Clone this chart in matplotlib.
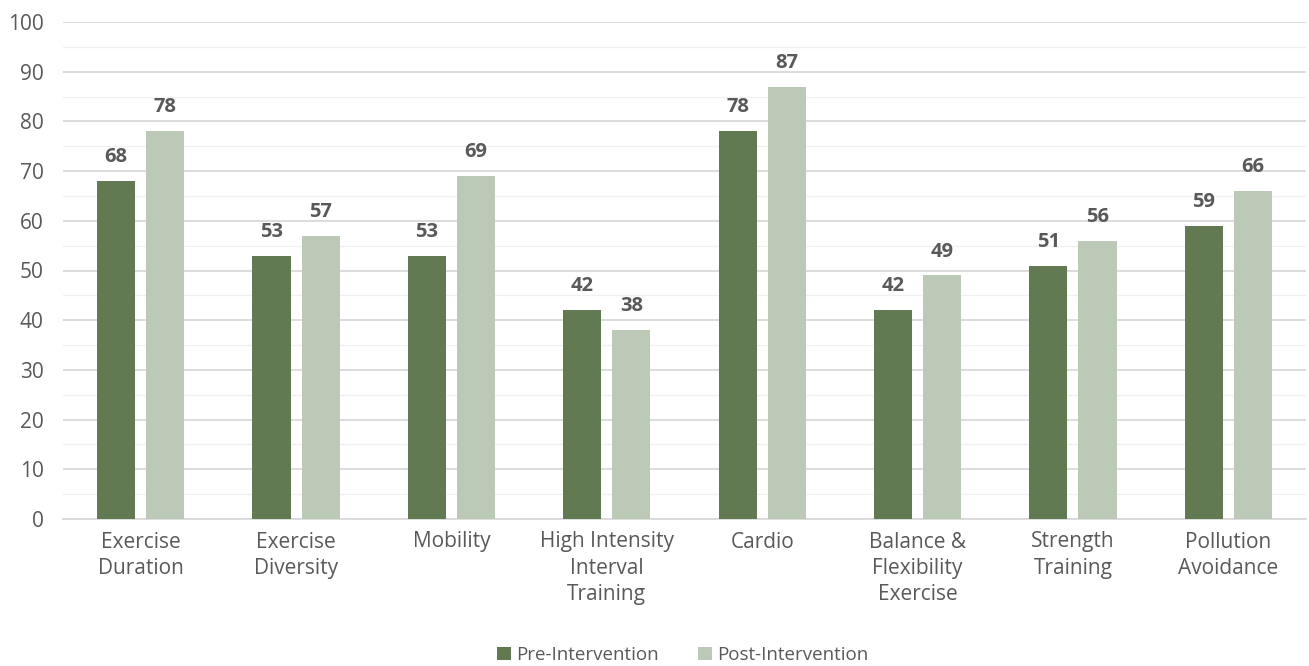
import matplotlib
matplotlib.use("Agg")
import matplotlib.pyplot as plt
import numpy as np

categories = ["Exercise\nDuration", "Exercise\nDiversity", "Mobility",
              "High Intensity\nInterval\nTraining", "Cardio",
              "Balance &\nFlexibility\nExercise", "Strength\nTraining",
              "Pollution\nAvoidance"]
pre_values = [68, 53, 53, 42, 78, 42, 51, 59]
post_values = [78, 57, 69, 38, 87, 49, 56, 66]
series_names = ["Pre-Intervention", "Post-Intervention"]
y_ticks = [0, 10, 20, 30, 40, 50, 60, 70, 80, 90, 100]

plt.rcParams['font.family'] = ['Open Sans', 'DejaVu Sans']
text_color = "#595959"
dark_green = "#627a52"
light_green = "#bdc9b7"

fig = plt.figure(figsize=(13.09, 6.66), dpi=100)
ax = fig.add_axes([63 / 1309, (666 - 519) / 666, (1306 - 63) / 1309, (519 - 22) / 666])

x = np.arange(len(categories))
width = 0.245
offset = 0.158
bars_pre = ax.bar(x - offset, pre_values, width, color=dark_green, label=series_names[0], zorder=3)
bars_post = ax.bar(x + offset, post_values, width, color=light_green, label=series_names[1], zorder=3)

for bars in (bars_pre, bars_post):
    for b in bars:
        h = b.get_height()
        ax.annotate(f"{h:.0f}", (b.get_x() + b.get_width() / 2, h),
                    xytext=(0, 10), textcoords="offset points",
                    ha="center", va="bottom", fontsize=14.5, fontweight="bold",
                    color=text_color)

ax.set_xlim(-0.5, len(categories) - 0.5)
ax.set_ylim(0, 100)
ax.set_yticks(y_ticks)
ax.set_yticks(np.arange(5, 100, 10), minor=True)
ax.yaxis.grid(True, which="major", color="#d9d9d9", linewidth=1.3, zorder=0)
ax.yaxis.grid(True, which="minor", color="#f0f0f0", linewidth=1.0, zorder=0)
ax.set_axisbelow(True)

ax.set_xticks(x)
ax.set_xticklabels(categories, fontsize=15, color=text_color, linespacing=1.32)
ax.tick_params(axis="y", labelsize=15, labelcolor=text_color, length=0, pad=14)
ax.tick_params(axis="y", which="minor", length=0)
ax.tick_params(axis="x", length=0, pad=9)

for side in ("top", "right", "left"):
    ax.spines[side].set_visible(False)
ax.spines["bottom"].set_color("#d9d9d9")
ax.spines["bottom"].set_linewidth(1.3)

fig.legend(handles=[bars_pre, bars_post], labels=series_names,
           loc="center", bbox_to_anchor=(683 / 1309, 1 - 655 / 666),
           ncol=2, frameon=False, fontsize=13.5, labelcolor=text_color,
           handlelength=0.72, handleheight=0.72, handletextpad=0.3,
           columnspacing=2.1)

fig.savefig("out.png", dpi=100)
